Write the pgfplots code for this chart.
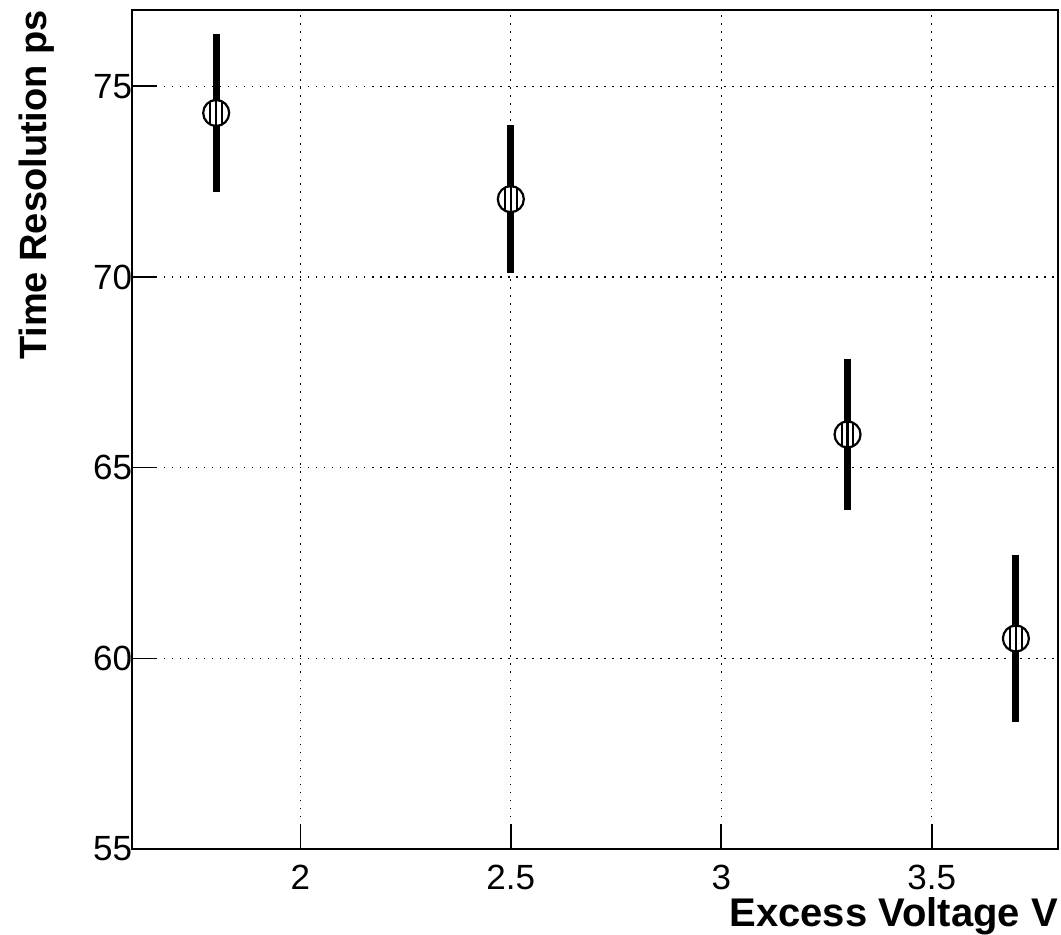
\documentclass[border=0pt]{standalone}
\usepackage{pgfplots}
\pgfplotsset{compat=1.18}
\usepackage{fontspec}
\setmainfont{Liberation Sans}
\pgfdeclareplotmark{hcirc}{%
  \pgfpathcircle{\pgfpointorigin}{\pgfplotmarksize}%
  \pgfusepathqfillstroke
  \pgfpathmoveto{\pgfpoint{0pt}{-\pgfplotmarksize}}%
  \pgfpathlineto{\pgfpoint{0pt}{\pgfplotmarksize}}%
  \pgfpathmoveto{\pgfpoint{-0.45\pgfplotmarksize}{-0.85\pgfplotmarksize}}%
  \pgfpathlineto{\pgfpoint{-0.45\pgfplotmarksize}{0.85\pgfplotmarksize}}%
  \pgfpathmoveto{\pgfpoint{0.45\pgfplotmarksize}{-0.85\pgfplotmarksize}}%
  \pgfpathlineto{\pgfpoint{0.45\pgfplotmarksize}{0.85\pgfplotmarksize}}%
  \pgfusepathqstroke}
\begin{document}
\begin{tikzpicture}
\begin{axis}[
  scale only axis, width=926pt, height=839pt,
  xmin=1.6, xmax=3.8, ymin=55, ymax=77,
  xtick={2,2.5,3,3.5}, ytick={55,60,65,70,75},
  tick pos=left, tick align=inside, major tick length=25pt,
  minor tick num=0,
  grid=major,
  grid style={black, line width=1.3pt, dash pattern=on 1.5pt off 6.5pt},
  axis line style={line width=2pt},
  tick style={line width=1.6pt, black},
  tick label style={font=\fontsize{35}{40}\selectfont},
  /pgf/number format/assume math mode=true,
  xticklabel style={yshift=-12.3pt},
  yticklabel style={xshift=3.7pt},
  xlabel={Excess Voltage V},
  ylabel={Time Resolution ps},
  xlabel style={font=\bfseries\fontsize{40}{44}\selectfont, at={(axis description cs:1,-0.0918)}, anchor=base east, inner sep=0pt},
  ylabel style={font=\bfseries\fontsize{38}{42}\selectfont, at={(axis description cs:-0.0918,1)}, anchor=base east, inner sep=0pt},
]
\addplot[only marks, mark=hcirc, mark size=13pt,
  mark options={fill=white, draw=black, line width=2.2pt},
  error bars/.cd, y dir=both, y explicit, error mark=none,
  error bar style={line width=7pt, black}]
  coordinates {
    (1.8,74.30) +- (0,2.08)
    (2.5,72.04) +- (0,1.94)
    (3.3,65.87) +- (0,1.98)
    (3.7,60.52) +- (0,2.19)
  };
\end{axis}
\pgfresetboundingbox
\path ([xshift=-132pt,yshift=-86pt]current axis.south west) rectangle ([xshift=3pt,yshift=10pt]current axis.north east);
\end{tikzpicture}
\end{document}
